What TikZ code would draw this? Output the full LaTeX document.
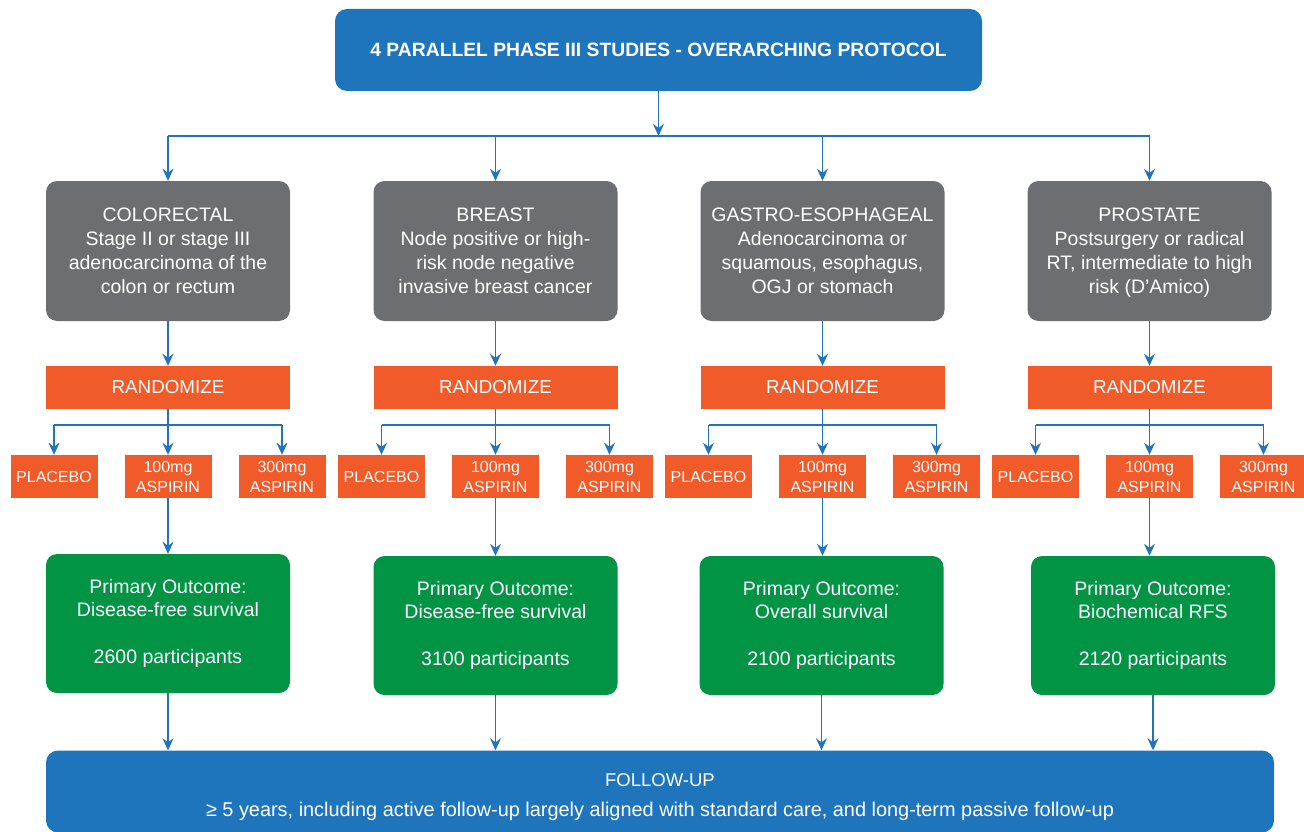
\documentclass[tikz,border=0pt]{standalone}
\usepackage{fontspec}
\setmainfont{Liberation Sans}
\usetikzlibrary{arrows.meta,positioning}
\definecolor{cblue}{RGB}{31,117,188}
\definecolor{cgray}{RGB}{109,110,113}
\definecolor{corange}{RGB}{241,90,41}
\definecolor{cgreen}{RGB}{0,148,68}
\definecolor{cline}{RGB}{34,116,186}
\tikzset{
  box/.style={inner sep=0pt, text=white, align=center, minimum width=244pt},
  topbox/.style={box, fill=cblue, rounded corners=12pt, minimum width=647pt, minimum height=82pt,
    font=\bfseries\fontsize{19.3}{23}\selectfont},
  graybox/.style={box, fill=cgray, rounded corners=11pt, minimum height=140pt,
    font=\fontsize{19.5}{24}\selectfont},
  randbox/.style={box, fill=corange, minimum height=43pt, font=\fontsize{18.8}{23}\selectfont},
  armbox/.style={box, fill=corange, minimum width=87pt, minimum height=43pt,
    font=\fontsize{16}{20}\selectfont},
  greenbox/.style={box, fill=cgreen, rounded corners=11pt, minimum height=139pt,
    font=\fontsize{19.5}{23.5}\selectfont},
  fubox/.style={box, fill=cblue, rounded corners=12pt, minimum width=1228pt, minimum height=82pt},
  futext/.style={inner sep=0pt, text=white, align=center, font=\fontsize{18.5}{30}\selectfont},
  conn/.style={draw=cline, line width=1.4pt},
  arr/.style={conn, -{Stealth[length=12pt,width=11pt,inset=4pt]}}
}
\begin{document}
\begin{tikzpicture}[x=1pt,y=-1pt]
\useasboundingbox (0,0) rectangle (1304,832);
\node[topbox] (top) at (658.5,50) {4 PARALLEL PHASE III STUDIES - OVERARCHING PROTOCOL};
\coordinate (hub) at (658.5,136);

\node[graybox] (g1) at (168,251) {COLORECTAL\\Stage II or stage III\\adenocarcinoma of the\\colon or rectum};
\node[graybox] (g2) at (495.5,251) {BREAST\\Node positive or high-\\risk node negative\\invasive breast cancer};
\node[graybox] (g3) at (822.5,251) {GASTRO-ESOPHAGEAL\\Adenocarcinoma or\\squamous, esophagus,\\OGJ or stomach};
\node[graybox] (g4) at (1149.5,251) {PROSTATE\\Postsurgery or radical\\RT, intermediate to high\\risk \smash{(D’Amico)}};

\foreach \i/\x in {1/168,2/495.5,3/822.5,4/1149.5}{
  \node[randbox] (r\i) at (\x,387.5) {RANDOMIZE};
  \coordinate (s\i) at (\x,425);
  \node[armbox] (p\i) at (\x-114,476.5) {PLACEBO};
  \node[armbox] (a\i) at (\x,476.5) {100mg\\ASPIRIN};
  \node[armbox] (b\i) at (\x+114,476.5) {300mg\\ASPIRIN};
}

\node[greenbox] (o1) at (168,623.5) {Primary Outcome:\\Disease-free survival\\[23.5pt]2600 participants};
\node[greenbox] (o2) at (495.5,625.5) {Primary Outcome:\\Disease-free survival\\[23.5pt]3100 participants};
\node[greenbox] (o3) at (821.5,625.5) {Primary Outcome:\\Overall survival\\[23.5pt]2100 participants};
\node[greenbox] (o4) at (1153,625.5) {Primary Outcome:\\Biochemical RFS\\[23.5pt]2120 participants};

\node[fubox] (fu) at (660,791.5) {};
\node[futext] (fut) at (660,797.5) {FOLLOW-UP\\{\fontsize{19.9}{30}\selectfont ≥ 5 years, including active follow-up largely aligned with standard care, and long-term passive follow-up}};

% connectors
\draw[arr] (top.south) -- (hub);
\draw[conn] (hub -| g1.north) -- (hub -| g4.north);
\foreach \i in {1,2,3,4}{
  \draw[arr] (hub -| g\i.north) -- (g\i.north);
  \draw[arr] (g\i.south) -- (r\i.north);
  \draw[conn] (r\i.south) -- (s\i);
  \draw[conn] (s\i -| p\i.north) -- (s\i -| b\i.north);
  \draw[arr] (s\i -| p\i.north) -- (p\i.north);
  \draw[arr] (s\i) -- (a\i.north);
  \draw[arr] (s\i -| b\i.north) -- (b\i.north);
  \draw[arr] (a\i.south) -- (a\i.south |- o\i.north);
  \draw[arr] (o\i.south) -- (o\i.south |- fu.north);
}
\end{tikzpicture}
\end{document}
